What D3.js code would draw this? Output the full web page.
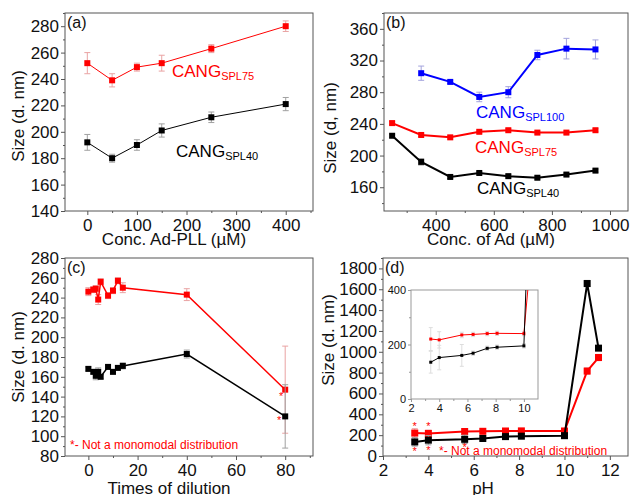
<!DOCTYPE html>
<html>
<head>
<meta charset="utf-8">
<script src="https://cdn.jsdelivr.net/npm/d3@7"></script>
<style>
  body { margin: 0; background: #fff; }
  svg { font-family: "Liberation Sans", Arial, sans-serif; }
</style>
</head>
<body>
<svg id="chart" width="630" height="495"></svg>
<script>
// ---- données ----
// (a) Conc. Ad-PLL
const aConc = [0, 50, 100, 150, 250, 400];
const aSpl75 = [252, 239, 249, 252, 263, 280];
const aSpl75Err = [8, 5, 3, 6, 3, 4];
const aSpl40 = [192, 180, 190, 201, 211, 221];
const aSpl40Err = [6, 3, 4, 5, 4, 5];

// (b) Conc. of Ad
const bConc = [250, 350, 450, 550, 650, 750, 850, 950];
const bSpl100 = [null, 304, 293, 274, 280, 327, 335, 334];
const bSpl100Err = [0, 9, 2, 6, 7, 6, 13, 12];
const bSpl75 = [241, 226, 223, 230, 232, 229, 229, 232];
const bSpl75Err = [2, 2, 2, 2, 2, 2, 2, 2];
const bSpl40 = [225, 192, 173, 178, 174, 172, 176, 181];
const bSpl40Err = [2, 4, 2, 2, 2, 2, 2, 2];

// (c) Times of dilution
const cTimes = [0, 2, 3, 4, 5, 8, 10, 12, 14, 40, 80];
const cSpl75 = [246, 248, 249, 238, 256, 242, 247, 257, 250, 243, 147];
const cSpl75Err = [4, 3, 3, 5, 3, 3, 3, 3, 5, 6, 44];
const cSpl40 = [168, 165, 161, 165, 160, 170, 165, 169, 171, 183, 120];
const cSpl40Err = [2, 2, 4, 4, 2, 2, 2, 2, 3, 4, 32];
const cStarX = [78.3, 77.5];
const cStarY = [142, 117];

// (d) pH
const dPh = [3.4, 4, 5.6, 6.4, 7.4, 8.1, 10, 11, 11.5];
const dSpl75 = [220, 217, 235, 237, 240, 241, 240, 815, 945];
const dSpl75Err = [42, 30, 10, 8, 8, 8, 8, 30, 30];
const dSpl40 = [135, 152, 160, 168, 186, 190, 195, 1655, 1035];
const dSpl40Err = [40, 45, 40, 8, 8, 8, 8, 30, 20];
const dStarX = [3.4, 3.4, 4, 4, 5.6];
const dStarY = [298, 62, 298, 67, 100];

const RED = "#ff0000", BLACK = "#000000", BLUE = "#0000ff";

const svg = d3.select("#chart");

function panel(p) {
  const g = svg.append("g");
  const x = d3.scaleLinear().domain(p.xDomain).range([p.left, p.right]);
  const y = d3.scaleLinear().domain(p.yDomain).range([p.bottom, p.top]);
  const fs = p.fontSize || 17;

  // axes (graduations majeures + mineures)
  g.append("g").attr("transform", `translate(0,${p.bottom})`)
    .call(d3.axisBottom(x).tickValues(p.xTicks).tickSize(p.tick || 4).tickPadding(p.tick ? 2 : 4).tickFormat(d3.format("d")));
  g.append("g").attr("transform", `translate(0,${p.bottom})`)
    .call(d3.axisBottom(x).tickValues(p.xMinor).tickSize(2).tickFormat(""));
  g.append("g").attr("transform", `translate(${p.left},0)`)
    .call(d3.axisLeft(y).tickValues(p.yTicks).tickSize(p.tick || 4).tickPadding(2).tickFormat(d3.format("d")));
  g.append("g").attr("transform", `translate(${p.left},0)`)
    .call(d3.axisLeft(y).tickValues(p.yMinor).tickSize(2).tickFormat(""));
  g.selectAll(".domain").remove();
  g.selectAll(".tick line").attr("stroke", p.frame);
  g.selectAll(".tick text").attr("font-size", fs).attr("fill", "#111");

  g.append("rect")
    .attr("x", p.left).attr("y", p.top)
    .attr("width", p.right - p.left).attr("height", p.bottom - p.top)
    .attr("fill", "none").attr("stroke", p.frame).attr("stroke-width", 1);

  const plot = g.append("g");
  if (p.clip) {
    const id = "clip" + Math.round(p.left) + Math.round(p.top);
    g.append("clipPath").attr("id", id).append("rect")
      .attr("x", p.left).attr("y", p.top)
      .attr("width", p.right - p.left).attr("height", p.bottom - p.top);
    plot.attr("clip-path", `url(#${id})`);
  }

  p.series.forEach(s => {
    const pts = p.xs.map((xv, i) => ({ x: xv, y: s.values[i], e: s.err ? s.err[i] : 0 }))
      .filter(d => d.y != null);
    // barres d'erreur
    const eb = plot.append("g").attr("stroke", s.errColor).attr("stroke-width", 1);
    pts.filter(d => d.e > 0).forEach(d => {
      const cx = x(d.x), cw = s.cap || 3;
      eb.append("line").attr("x1", cx).attr("x2", cx).attr("y1", y(d.y - d.e)).attr("y2", y(d.y + d.e));
      eb.append("line").attr("x1", cx - cw).attr("x2", cx + cw).attr("y1", y(d.y - d.e)).attr("y2", y(d.y - d.e));
      eb.append("line").attr("x1", cx - cw).attr("x2", cx + cw).attr("y1", y(d.y + d.e)).attr("y2", y(d.y + d.e));
    });
    plot.append("path").datum(pts)
      .attr("fill", "none").attr("stroke", s.color).attr("stroke-width", p.lineWidth)
      .attr("d", d3.line().x(d => x(d.x)).y(d => y(d.y)));
    const m = p.marker;
    plot.append("g").selectAll("rect").data(pts).join("rect")
      .attr("x", d => x(d.x) - m / 2).attr("y", d => y(d.y) - m / 2)
      .attr("width", m).attr("height", m).attr("fill", s.color);
  });

  if (p.stars) {
    g.append("g").selectAll("text").data(p.stars.x).join("text")
      .attr("x", d => x(d)).attr("y", (d, i) => y(p.stars.y[i]) + 5)
      .attr("text-anchor", "middle").attr("font-size", 11).attr("fill", RED)
      .text("*");
  }

  if (p.tag) {
    g.append("text").attr("x", p.left + 2).attr("y", p.top + 15)
      .attr("font-size", 16).attr("fill", "#111").text(p.tag);
  }
  if (p.xTitle) {
    g.append("text").attr("x", p.xTitle[1]).attr("y", p.xTitle[2])
      .attr("text-anchor", "middle").attr("font-size", 17).attr("fill", "#111").text(p.xTitle[0]);
  }
  if (p.yTitle) {
    g.append("text").attr("transform", `translate(${p.yTitle[1]},${p.yTitle[2]}) rotate(-90)`)
      .attr("text-anchor", "middle").attr("font-size", 17).attr("fill", "#111").text(p.yTitle[0]);
  }
  (p.labels || []).forEach(l => {
    const t = g.append("text").attr("x", l.x).attr("y", l.y).attr("fill", l.color).attr("font-size", 17);
    t.append("tspan").text("CANG");
    t.append("tspan").attr("font-size", 11).attr("dy", 3).text(l.sub);
  });
  if (p.note) {
    g.append("text").attr("x", p.note[0]).attr("y", p.note[1])
      .attr("font-size", 12).attr("fill", RED).text("*- Not a monomodal distribution");
  }
  return { x, y };
}

// (a)
panel({
  left: 65, right: 313, top: 13, bottom: 211,
  xDomain: [-45, 455], yDomain: [140, 290],
  xTicks: [0, 100, 200, 300, 400], xMinor: [50, 150, 250, 350, 450],
  yTicks: d3.range(140, 281, 20), yMinor: d3.range(150, 291, 20),
  frame: "#555", lineWidth: 1, marker: 6,
  xs: aConc,
  series: [
    { values: aSpl75, err: aSpl75Err, color: RED, errColor: "#e9a3a3" },
    { values: aSpl40, err: aSpl40Err, color: BLACK, errColor: "#a0a0a0" }
  ],
  tag: "(a)",
  xTitle: ["Conc. Ad-PLL (\u00b5M)", 174, 245],
  yTitle: ["Size (d. nm)", 24, 116],
  labels: [
    { x: 172, y: 77, color: RED, sub: "SPL75" },
    { x: 176, y: 157, color: BLACK, sub: "SPL40" }
  ]
});

// (b)
panel({
  left: 384, right: 628, top: 13, bottom: 211,
  xDomain: [222, 1062], yDomain: [130, 380],
  xTicks: [400, 600, 800, 1000], xMinor: [300, 500, 700, 900],
  yTicks: d3.range(160, 361, 40), yMinor: d3.range(140, 381, 40),
  frame: "#555", lineWidth: 2, marker: 6,
  xs: bConc,
  series: [
    { values: bSpl100, err: bSpl100Err, color: BLUE, errColor: "#a3a3dd" },
    { values: bSpl75, err: bSpl75Err, color: RED, errColor: "#e9a3a3" },
    { values: bSpl40, err: bSpl40Err, color: BLACK, errColor: "#a0a0a0" }
  ],
  tag: "(b)",
  xTitle: ["Conc. of Ad (\u00b5M)", 491, 245],
  yTitle: ["Size (d, nm)", 336, 128],
  labels: [
    { x: 476, y: 118, color: BLUE, sub: "SPL100" },
    { x: 475, y: 153, color: RED, sub: "SPL75" },
    { x: 477, y: 194, color: BLACK, sub: "SPL40" }
  ]
});

// (c)
panel({
  left: 65, right: 313, top: 258, bottom: 456,
  xDomain: [-9.5, 91.3], yDomain: [80, 280],
  xTicks: [0, 20, 40, 60, 80], xMinor: [10, 30, 50, 70, 90],
  yTicks: d3.range(80, 281, 20), yMinor: d3.range(90, 281, 20),
  frame: "#555", lineWidth: 1.5, marker: 6,
  xs: cTimes,
  series: [
    { values: cSpl75, err: cSpl75Err, color: RED, errColor: "#e9a3a3" },
    { values: cSpl40, err: cSpl40Err, color: BLACK, errColor: "#a0a0a0" }
  ],
  stars: { x: cStarX, y: cStarY },
  tag: "(c)",
  xTitle: ["Times of dilution", 169, 494],
  yTitle: ["Size (d. nm)", 24, 357],
  note: [70, 449]
});

// (d)
panel({
  left: 383, right: 628, top: 258, bottom: 456,
  xDomain: [2, 12.8], yDomain: [0, 1900],
  xTicks: [2, 4, 6, 8, 10, 12], xMinor: [3, 5, 7, 9, 11],
  yTicks: d3.range(0, 1801, 200), yMinor: d3.range(100, 1901, 200),
  frame: "#555", lineWidth: 2, marker: 7,
  xs: dPh,
  series: [
    { values: dSpl75, err: dSpl75Err, color: RED, errColor: "#e9a3a3" },
    { values: dSpl40, err: dSpl40Err, color: BLACK, errColor: "#a0a0a0" }
  ],
  stars: { x: dStarX, y: dStarY },
  tag: "(d)",
  xTitle: ["pH", 483, 494],
  yTitle: ["Size (d. nm)", 334, 340],
  note: [439, 455]
});

// encart (d)
panel({
  left: 411, right: 538, top: 290, bottom: 399,
  xDomain: [2, 11], yDomain: [0, 400],
  xTicks: [2, 4, 6, 8, 10], xMinor: [3, 5, 7, 9],
  yTicks: [0, 200, 400], yMinor: [100, 300],
  frame: "#999", lineWidth: 1, marker: 3, fontSize: 11, tick: 3,
  clip: true,
  xs: dPh,
  series: [
    { values: dSpl75, err: dSpl75Err, color: RED, errColor: "#dddddd", cap: 2 },
    { values: dSpl40, err: dSpl40Err, color: BLACK, errColor: "#dddddd", cap: 2 }
  ]
});
</script>
</body>
</html>
